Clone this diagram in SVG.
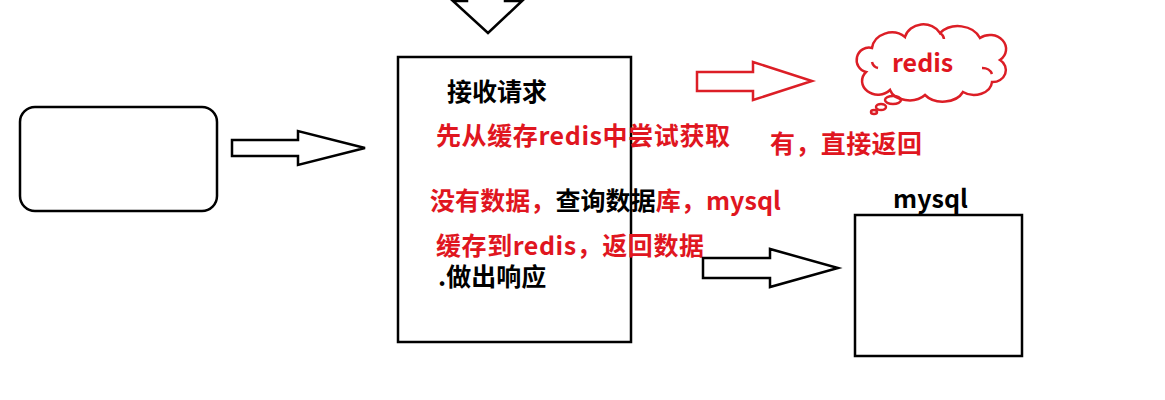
<svg xmlns="http://www.w3.org/2000/svg" width="1165" height="400" viewBox="0 0 1165 400">
  <style>
    .bk { fill: none; stroke: #000; stroke-width: 2.5; stroke-linejoin: miter; }
    .rd { fill: none; stroke: #DC1E26; stroke-width: 2.5; stroke-linejoin: miter; }
    .t { font-family: "Noto Sans CJK SC", "Microsoft YaHei", sans-serif; font-weight: bold; font-size: 25px; }
    .r { fill: #E0161F; }
    .k { fill: #000; }
  </style>
  <rect width="1165" height="400" fill="#fff"/>

  <g id="client">
    <rect class="bk" x="20" y="107" width="197" height="104" rx="15" ry="15"/>
  </g>

  <g id="server">
    <rect class="bk" x="398" y="57" width="233" height="285"/>
    <text class="t k" x="447" y="101">接收请求</text>
    <text class="t r" x="436" y="145" textLength="294" lengthAdjust="spacing">先从缓存redis中尝试获取</text>
    <text class="t" x="430" y="210" textLength="351" lengthAdjust="spacing"><tspan class="r">没有数据，</tspan><tspan class="k">查询数据</tspan><tspan class="r">库，mysql</tspan></text>
    <text class="t r" x="436" y="255" textLength="268" lengthAdjust="spacing">缓存到redis，返回数据</text>
    <text class="t k" x="438" y="286">.做出响应</text>
  </g>

  <g id="redis">
    <path class="rd" d="M866,72 A12,12 0 0 1 872,48 A20,18 0 0 1 905,37 A19,17 0 0 1 940,33 A24,20 0 0 1 980,38 A16,14 0 0 1 1000,60 A13,12 0 0 1 992,82 A18,14 0 0 1 963,92 A22,16 0 0 1 925,95 A20,14 0 0 1 890,90 A14,12 0 0 1 866,72 Z"/>
    <path class="rd" d="M872,62 A8,8 0 0 0 878,68 M982,68 A10,8 0 0 1 992,74 M940,33 A10,8 0 0 1 944,39"/>
    <ellipse class="rd" cx="893" cy="100" rx="8" ry="4"/>
    <ellipse class="rd" cx="881" cy="107" rx="5" ry="3"/>
    <ellipse class="rd" cx="874" cy="112" rx="3" ry="2"/>
    <text class="t r" x="892" y="72">redis</text>
  </g>

  <g id="hit-label">
    <text class="t r" x="770" y="153" textLength="152" lengthAdjust="spacing">有，直接返回</text>
  </g>

  <g id="mysql">
    <text class="t k" x="893" y="208" textLength="75" lengthAdjust="spacing">mysql</text>
    <rect class="bk" x="855" y="215" width="167" height="141"/>
  </g>

  <g id="connectors">
    <polygon class="bk" points="467,-5 467,1 453,1 488,33 522,1 505,1 505,-5"/>
    <polygon class="bk" points="232,140 298,140 298,131 365,148 298,165 298,156 232,156"/>
    <polygon class="rd" points="697,72 753,72 753,62 812,81 753,100 753,91 697,91"/>
    <polygon class="bk" points="703,258 770,258 770,249 838,268 770,287 770,278 703,278"/>
  </g>
</svg>
